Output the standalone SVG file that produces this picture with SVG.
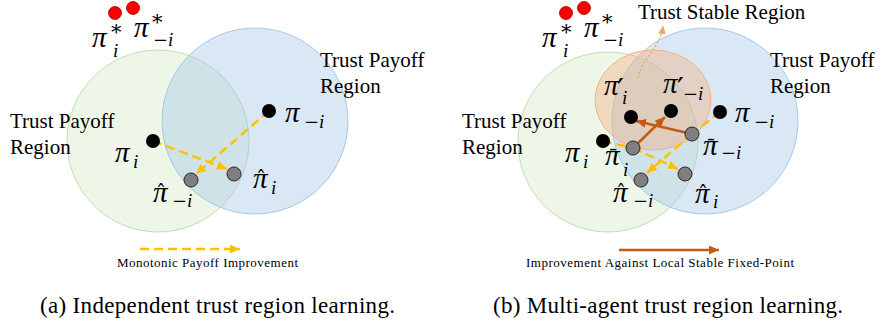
<svg xmlns="http://www.w3.org/2000/svg" width="883" height="327" viewBox="0 0 883 327">
<style>
.tr{font-family:"Liberation Serif","Times New Roman",serif;font-size:21px;fill:#000}
.lg{font-family:"Liberation Serif","Times New Roman",serif;font-size:13px;fill:#000}
.cap{font-family:"Liberation Serif","Times New Roman",serif;font-size:23px;fill:#000}
.m{font-family:"Liberation Serif","Times New Roman",serif;font-style:italic;font-size:29px;fill:#000}
.s{font-family:"Liberation Serif","Times New Roman",serif;font-style:italic;font-size:19px}
.u{font-family:"DejaVu Serif",serif;font-style:normal;font-size:18px}
.st{font-family:"DejaVu Serif",serif;font-style:normal;font-size:21px}
.pr{font-family:"DejaVu Serif",serif;font-style:normal;font-size:30px}
.acc{font-family:"DejaVu Serif",serif;font-style:normal;font-size:20px}
.green{fill:#A9D18E;fill-opacity:0.2;stroke:#A9D18E;stroke-opacity:0.7;stroke-width:1}
.blue{fill:#9DC3E6;fill-opacity:0.38;stroke:#9DC3E6;stroke-opacity:0.9;stroke-width:1}
.orng{fill:#F4B183;fill-opacity:0.42;stroke:#F4B183;stroke-width:1}
.blk{fill:#000}
.gry{fill:#7F7F7F;stroke:#262626;stroke-width:1}
.red{fill:#FF0000;stroke:#A00000;stroke-width:0.8}
.gd{fill:none;stroke:#FFC000;stroke-width:2.5;stroke-dasharray:9 5}
.br{fill:none;stroke:#C55A11;stroke-width:2.5}
.dt{fill:none;stroke:#F4A460;stroke-width:1.3;stroke-dasharray:2 2}
</style>
<defs>
<marker id="ag" markerUnits="userSpaceOnUse" markerWidth="11" markerHeight="9" refX="10" refY="4.5" orient="auto"><path d="M0,0 L10,4.5 L0,9 z" fill="#FFC000"/></marker>
<marker id="ab" markerUnits="userSpaceOnUse" markerWidth="11" markerHeight="9" refX="10" refY="4.5" orient="auto"><path d="M0,0 L10,4.5 L0,9 z" fill="#C55A11"/></marker>
<marker id="ao" markerUnits="userSpaceOnUse" markerWidth="9" markerHeight="8" refX="8" refY="4" orient="auto"><path d="M0,0 L8,4 L0,8 z" fill="#F4A460"/></marker>
</defs>

<!-- Panel (a) regions -->
<g id="a-region-green"><circle class="green" cx="158" cy="141" r="91"/>
<text class="tr" x="10" y="128">Trust Payoff</text><text class="tr" x="10" y="154">Region</text></g>
<g id="a-region-blue"><circle class="blue" cx="255" cy="121" r="93"/>
<text class="tr" x="320" y="67">Trust Payoff</text><text class="tr" x="320" y="93">Region</text></g>

<!-- Panel (b) regions -->
<g id="b-region-green"><circle class="green" cx="608" cy="142" r="90"/>
<text class="tr" x="462" y="128">Trust Payoff</text><text class="tr" x="462" y="154">Region</text></g>
<g id="b-region-blue"><circle class="blue" cx="705" cy="121" r="93"/>
<text class="tr" x="770" y="67">Trust Payoff</text><text class="tr" x="770" y="93">Region</text></g>
<g id="b-region-stable"><ellipse class="orng" cx="653" cy="100" rx="58" ry="50"/>
<text class="tr" x="638" y="19">Trust Stable Region</text></g>

<g id="connectors">
<path class="gd" d="M153,141 L227,169" marker-end="url(#ag)"/>
<path class="gd" d="M269,111 L196,174" marker-end="url(#ag)"/>
<path class="gd" d="M140,249 L240,249" marker-end="url(#ag)"/>
<path class="gd" d="M603,141 L633,148"/>
<path class="gd" d="M633,148 L678,169" marker-end="url(#ag)"/>
<path class="gd" d="M720,112 L692,134"/>
<path class="gd" d="M692,134 L647,173" marker-end="url(#ag)"/>
<path class="br" d="M633,148 L665,117" marker-end="url(#ab)"/>
<path class="br" d="M692,134 L636,121" marker-end="url(#ab)"/>
<path class="br" d="M619,250 L719,250" marker-end="url(#ab)"/>
<path class="dt" d="M638,78 C641,58 660,50 663,26" marker-end="url(#ao)"/>
</g>

<!-- Panel (a) nodes -->
<g id="a-opt"><circle class="red" cx="115" cy="13" r="6.5"/><circle class="red" cx="133" cy="8" r="6.5"/>
<text class="m" x="92" y="47">π<tspan class="st" x="111" y="39">*</tspan><tspan class="s" x="113" y="57">i</tspan></text>
<text class="m" x="134" y="37">π<tspan class="st" x="152" y="29">*</tspan><tspan class="u" x="153" y="46">−</tspan><tspan class="s">i</tspan></text></g>
<g id="a-pi-i"><circle class="blk" cx="153" cy="141" r="7"/>
<text class="m" x="115" y="162">π<tspan class="s" x="133" y="168">i</tspan></text></g>
<g id="a-pi-minus-i"><circle class="blk" cx="269" cy="111" r="7"/>
<text class="m" x="285" y="122">π<tspan class="u" x="304" y="128">−</tspan><tspan class="s">i</tspan></text></g>
<g id="a-hat-pi-i"><circle class="gry" cx="234" cy="174" r="7"/>
<text class="m" x="253" y="188">π<tspan class="acc" x="256" y="186">ˆ</tspan><tspan class="s" x="271" y="194">i</tspan></text></g>
<g id="a-hat-pi-minus-i"><circle class="gry" cx="191" cy="180" r="7"/>
<text class="m" x="153" y="202">π<tspan class="acc" x="156" y="200">ˆ</tspan><tspan class="u" x="172" y="207">−</tspan><tspan class="s">i</tspan></text></g>
<g id="a-legend"><text class="lg" x="117" y="267" textLength="181" lengthAdjust="spacing">Monotonic Payoff Improvement</text></g>
<text class="cap" x="40" y="313" textLength="355" lengthAdjust="spacing">(a) Independent trust region learning.</text>

<!-- Panel (b) nodes -->
<g id="b-opt"><circle class="red" cx="566" cy="13" r="6.5"/><circle class="red" cx="584" cy="8" r="6.5"/>
<text class="m" x="542" y="47">π<tspan class="st" x="561" y="39">*</tspan><tspan class="s" x="563" y="57">i</tspan></text>
<text class="m" x="584" y="37">π<tspan class="st" x="602" y="29">*</tspan><tspan class="u" x="603" y="46">−</tspan><tspan class="s">i</tspan></text></g>
<g id="b-pi-i"><circle class="blk" cx="603" cy="141" r="7"/>
<text class="m" x="565" y="162">π<tspan class="s" x="583" y="168">i</tspan></text></g>
<g id="b-pi-minus-i"><circle class="blk" cx="720" cy="112" r="7"/>
<text class="m" x="735" y="122">π<tspan class="u" x="754" y="128">−</tspan><tspan class="s">i</tspan></text></g>
<g id="b-pi-prime-i"><circle class="blk" cx="631" cy="117" r="7"/>
<text class="m" x="604" y="95">π<tspan class="pr" x="617" y="100">′</tspan><tspan class="s" x="622" y="104">i</tspan></text></g>
<g id="b-pi-prime-minus-i"><circle class="blk" cx="671" cy="111" r="7"/>
<text class="m" x="663" y="93">π<tspan class="pr" x="677" y="99">′</tspan><tspan class="u" x="683" y="100">−</tspan><tspan class="s">i</tspan></text></g>
<g id="b-bar-pi-i"><circle class="gry" cx="633" cy="148" r="7"/>
<text class="m" x="605" y="165">π<tspan class="acc" x="608" y="164">¯</tspan><tspan class="s" x="623" y="176">i</tspan></text></g>
<g id="b-bar-pi-minus-i"><circle class="gry" cx="692" cy="134" r="7"/>
<text class="m" x="703" y="155">π<tspan class="acc" x="706" y="154">¯</tspan><tspan class="u" x="721" y="159">−</tspan><tspan class="s">i</tspan></text></g>
<g id="b-hat-pi-i"><circle class="gry" cx="685" cy="174" r="7"/>
<text class="m" x="695" y="203">π<tspan class="acc" x="698" y="201">ˆ</tspan><tspan class="s" x="713" y="208">i</tspan></text></g>
<g id="b-hat-pi-minus-i"><circle class="gry" cx="641" cy="180" r="7"/>
<text class="m" x="613" y="202">π<tspan class="acc" x="616" y="200">ˆ</tspan><tspan class="u" x="633" y="207">−</tspan><tspan class="s">i</tspan></text></g>
<g id="b-legend"><text class="lg" x="526" y="267" textLength="268" lengthAdjust="spacing">Improvement Against Local Stable Fixed-Point</text></g>
<text class="cap" x="493" y="313" textLength="350" lengthAdjust="spacing">(b) Multi-agent trust region learning.</text>
</svg>
